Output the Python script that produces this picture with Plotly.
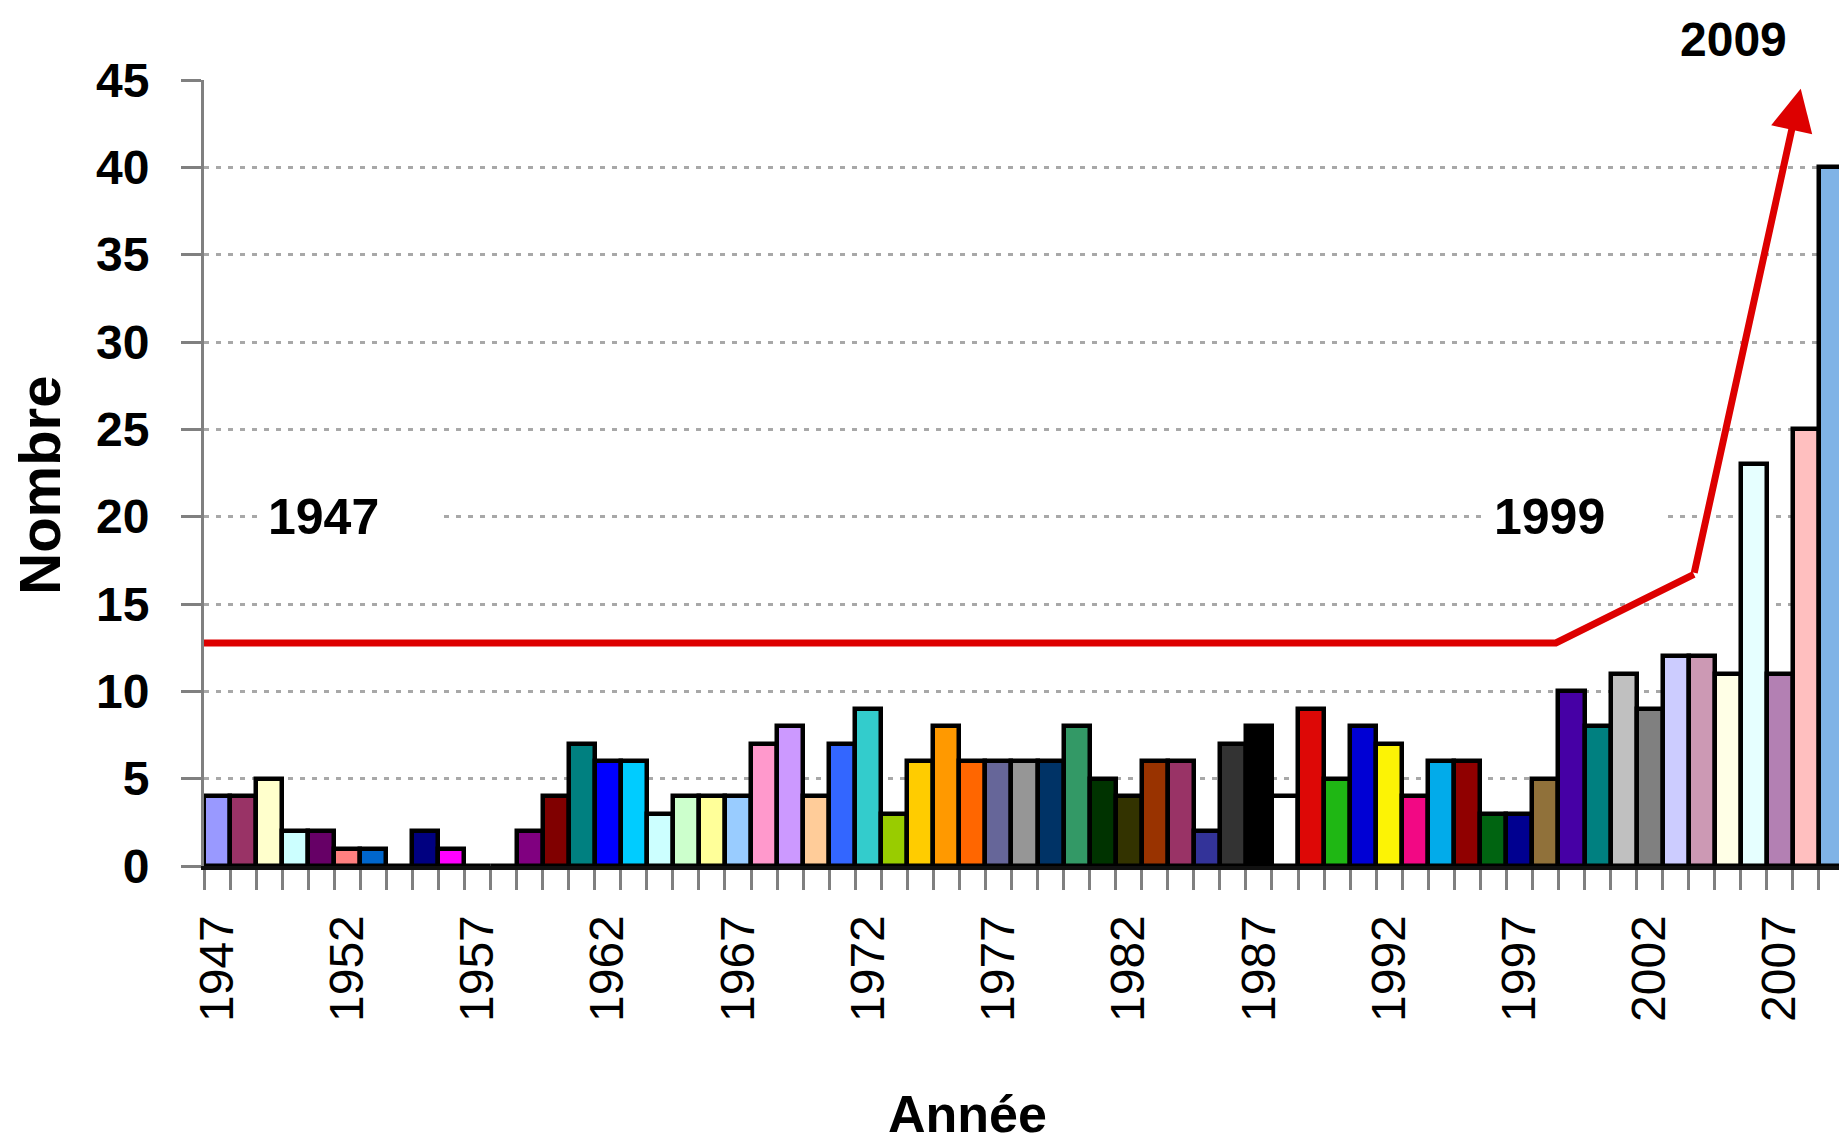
import plotly.graph_objects as go

years = list(range(1947, 2010))
counts = [4, 4, 5, 2, 2, 1, 1, 0, 2, 1,
          0, 0, 2, 4, 7, 6, 6, 3, 4, 4,
          4, 7, 8, 4, 7, 9, 3, 6, 8, 6,
          6, 6, 6, 8, 5, 4, 6, 6, 2, 7,
          8, 4, 9, 5, 8, 7, 4, 6, 6, 3,
          3, 5, 10, 8, 11, 9, 12, 12, 11, 23,
          11, 25, 40]
bar_colors = ["#9999FF", "#993366", "#FFFFCC", "#CCFFFF", "#660066", "#FF8080", "#0066CC", "#FFFFFF", "#000080", "#FF00FF",
              "#FFFFFF", "#FFFFFF", "#800080", "#800000", "#008080", "#0000FF", "#00CCFF", "#CCFFFF", "#CCFFCC", "#FFFF99",
              "#99CCFF", "#FF99CC", "#CC99FF", "#FFCC99", "#3366FF", "#33CCCC", "#99CC00", "#FFCC00", "#FF9900", "#FF6600",
              "#666699", "#969696", "#003366", "#339966", "#003300", "#333300", "#993300", "#993366", "#333399", "#333333",
              "#000000", "#FFFFFF", "#DD0806", "#1FB714", "#0000D4", "#FCF305", "#F20884", "#02ABEA", "#900000", "#006411",
              "#000090", "#90713A", "#4600A5", "#008080", "#C0C0C0", "#808080", "#CCCCFF", "#CC99B4", "#FFFFE6", "#E6FFFF",
              "#B380B3", "#FFBFBF", "#80B3E6"]
label_years = list(range(1947, 2010, 5))
y_ticks = list(range(0, 50, 5))

trend_x = [1946.5, 1998.4, 2003.7]
trend_y = [12.77, 12.77, 16.7]
arrow_tip = (2007.8, 44.5)

fig = go.Figure()
fig.add_trace(go.Bar(
    x=years, y=counts, width=1,
    marker=dict(color=bar_colors, line=dict(color="black", width=4.5)),
    showlegend=False,
))
fig.add_trace(go.Scatter(
    x=trend_x, y=trend_y, mode="lines",
    line=dict(color="#DD0000", width=7), showlegend=False,
))

fig.add_annotation(
    x=arrow_tip[0], y=arrow_tip[1], ax=trend_x[-1], ay=trend_y[-1],
    xref="x", yref="y", axref="x", ayref="y", text="",
    showarrow=True, arrowhead=2, arrowsize=1.2, arrowwidth=7, arrowcolor="#DD0000", standoff=0,
)

bold = dict(family="Liberation Sans, Arial, sans-serif", color="black", weight="bold")
fig.add_annotation(x=1948.57, y=20, xref="x", yref="y", xanchor="left", yanchor="middle",
                   text="1947", showarrow=False, bgcolor="white", width=160, align="left",
                   borderpad=9, font=dict(size=50, **bold))
fig.add_annotation(x=1995.65, y=20, xref="x", yref="y", xanchor="left", yanchor="middle",
                   text="1999", showarrow=False, bgcolor="white", width=160, align="left",
                   borderpad=9, font=dict(size=50, **bold))
fig.add_annotation(x=2005.2, y=1.052, xref="x", yref="paper", xanchor="center", yanchor="middle",
                   text="2009", showarrow=False, font=dict(size=48, **bold))
fig.add_annotation(x=-0.1, y=0.485, xref="paper", yref="paper", xanchor="center", yanchor="middle",
                   text="Nombre", textangle=-90, showarrow=False, font=dict(size=58, **bold))
fig.add_annotation(x=0.465, y=-0.316, xref="paper", yref="paper", xanchor="center", yanchor="middle",
                   text="Année", showarrow=False, font=dict(size=52, **bold))

fig.update_layout(
    width=1839, height=1134,
    margin=dict(l=196, r=2, t=72, b=276),
    paper_bgcolor="white", plot_bgcolor="white",
    bargap=0,
    xaxis=dict(
        range=[1946.5, 2009.5], tickvals=label_years, ticktext=[str(y) for y in label_years],
        tickangle=-90, ticks="", ticklabelstandoff=26,
        tickfont=dict(family="Liberation Sans, Arial, sans-serif", size=48, color="black"),
        minor=dict(tick0=1946.5, dtick=1, ticks="outside", ticklen=20, tickcolor="#808080",
                   tickwidth=3, showgrid=False),
        showline=True, linecolor="#111111", linewidth=4, showgrid=False, zeroline=False,
    ),
    yaxis=dict(
        range=[0, 45], tickvals=y_ticks, ticks="outside", ticklen=20, tickcolor="#808080", tickwidth=3,
        tickfont=dict(size=48, **bold), ticklabelstandoff=22,
        showgrid=True, gridcolor="#A8A8A8", griddash="5px,7px", gridwidth=3,
        showline=True, linecolor="#808080", linewidth=3, zeroline=False,
    ),
)

fig.write_html("out.html")
